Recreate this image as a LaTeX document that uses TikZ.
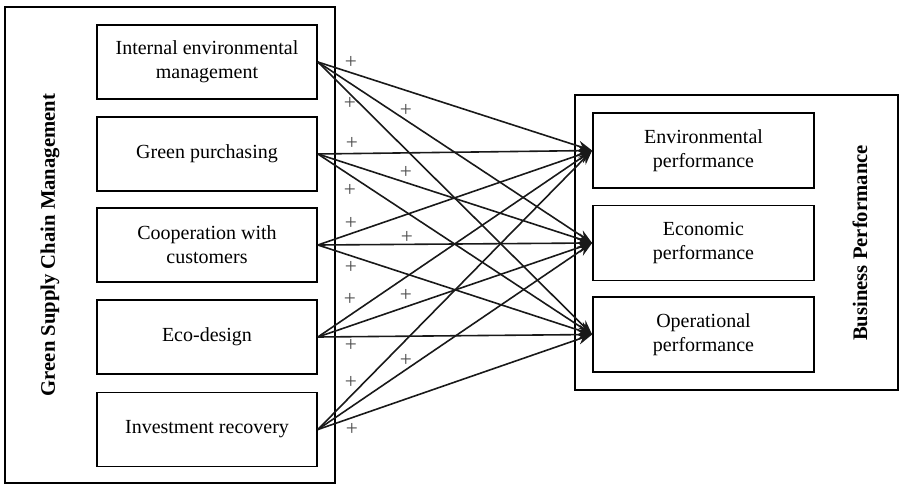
\documentclass[tikz,border=0pt]{standalone}
\usepackage{fontspec}
\setmainfont{Liberation Serif}
\usetikzlibrary{arrows.meta}
\begin{document}
\begin{tikzpicture}[x=0.75pt,y=-0.75pt,
    factor/.style={draw,line width=1.3pt,minimum width=165pt,minimum height=55.5pt,align=center,inner sep=2pt,font=\fontsize{15}{18}\selectfont},
    outcome/.style={factor,minimum width=165.75pt,minimum height=56.25pt},
    group/.style={rotate=90,font=\bfseries\fontsize{15.5}{18}\selectfont},
    plus/.style={text=black!70,inner sep=0pt,font=\fontsize{16}{16}\selectfont},
    link/.style={-{Stealth[length=11pt,width=8pt]},line width=1.2pt,black!90}]
        \useasboundingbox (0,0) rectangle (904,486);

        % outer frames
        \draw[line width=1.3pt] (5,7) rectangle (335,483);
        \draw[line width=1.3pt] (575,95) rectangle (898,390);
        \node[group] (gscm) at (50,245) {Green Supply Chain Management};
        \node[group] (bp)   at (860,243) {Business Performance};

        % green supply chain practices
        \node[factor] (g1) at (207,62)  {Internal environmental\\management};
        \node[factor] (g2) at (207,154) {Green purchasing};
        \node[factor] (g3) at (207,245) {Cooperation with\\customers};
        \node[factor] (g4) at (207,337) {Eco-design};
        \node[factor] (g5) at (207,429.5) {Investment recovery};

        % performance
        \node[outcome] (p1) at (703.5,150.5) {Environmental\\performance};
        \node[outcome] (p2) at (703.5,243)   {Economic\\performance};
        \node[outcome] (p3) at (703.5,334.5) {Operational\\performance};

        \path [link] (g1.east) edge (p1.west);
        \path [link] (g1.east) edge (p2.west);
        \path [link] (g1.east) edge (p3.west);
        \path [link] (g2.east) edge (p1.west);
        \path [link] (g2.east) edge (p2.west);
        \path [link] (g2.east) edge (p3.west);
        \path [link] (g3.east) edge (p1.west);
        \path [link] (g3.east) edge (p2.west);
        \path [link] (g3.east) edge (p3.west);
        \path [link] (g4.east) edge (p1.west);
        \path [link] (g4.east) edge (p2.west);
        \path [link] (g4.east) edge (p3.west);
        \path [link] (g5.east) edge (p1.west);
        \path [link] (g5.east) edge (p2.west);
        \path [link] (g5.east) edge (p3.west);

        % signs
        \node[plus] (s1)  at (351,62)  {+};
        \node[plus] (s2)  at (350,103) {+};
        \node[plus] (s3)  at (406,110) {+};
        \node[plus] (s4)  at (352,143) {+};
        \node[plus] (s5)  at (406,172) {+};
        \node[plus] (s6)  at (350,190) {+};
        \node[plus] (s7)  at (351,223) {+};
        \node[plus] (s8)  at (407,237) {+};
        \node[plus] (s9)  at (351,267) {+};
        \node[plus] (s10) at (350,299) {+};
        \node[plus] (s11) at (406,295) {+};
        \node[plus] (s12) at (351,345) {+};
        \node[plus] (s13) at (406,360) {+};
        \node[plus] (s14) at (351,382) {+};
        \node[plus] (s15) at (352,429) {+};
    \end{tikzpicture}
\end{document}
